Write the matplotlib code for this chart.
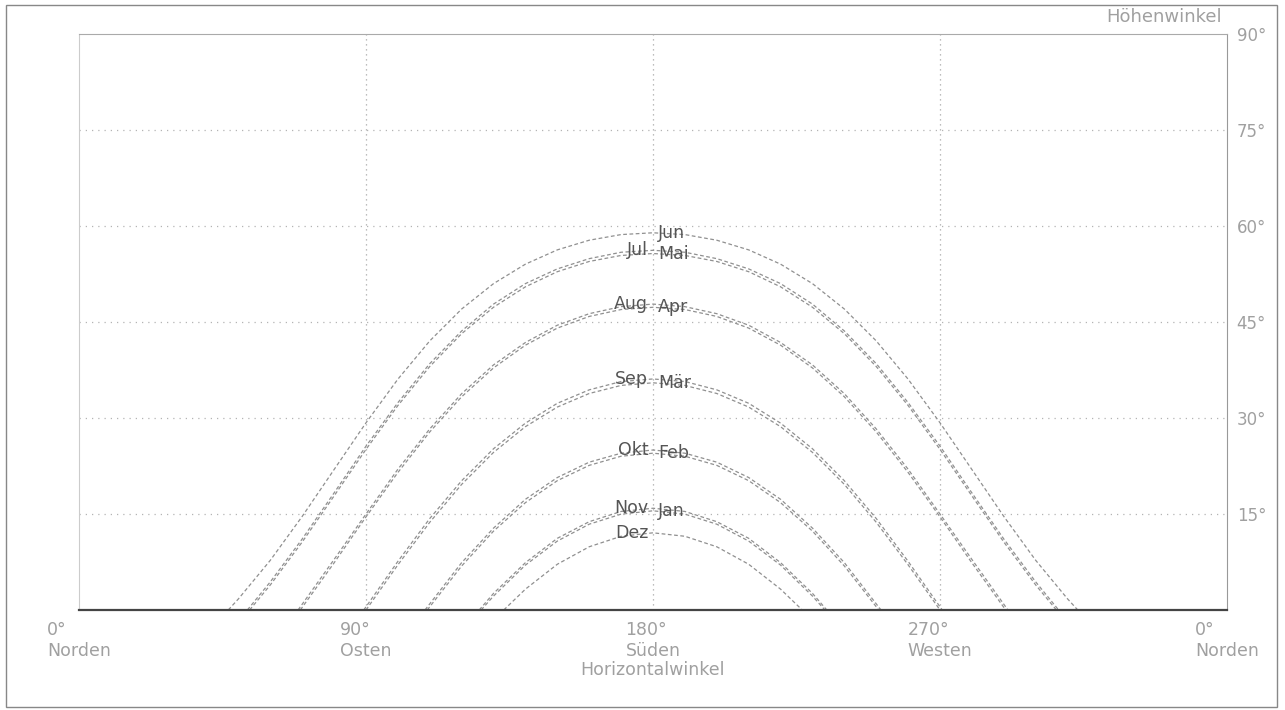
import matplotlib
matplotlib.use("Agg")
import matplotlib.pyplot as plt
from matplotlib.patches import Rectangle

plt.rcParams['font.family'] = ['DejaVu Sans']

# Sun path per month: azimuth from north (deg) and altitude (deg)
jun_az = [46.8, 50, 60, 70, 80, 90, 100, 110, 120, 130, 140, 150, 160, 170, 180,
          190, 200, 210, 220, 230, 240, 250, 260, 270, 280, 290, 300, 310, 313.2]
jun_alt = [0, 1.74, 7.77, 14.63, 21.95, 29.25, 36.07, 42.05, 47.03, 51.00, 54.04, 56.27, 57.78, 58.66, 58.94,
           58.66, 57.78, 56.27, 54.04, 51.00, 47.03, 42.05, 36.07, 29.25, 21.95, 14.63, 7.77, 1.74, 0]

mai_az = [53.5, 60, 70, 80, 90, 100, 110, 120, 130, 140, 150, 160, 170, 180,
          190, 200, 210, 220, 230, 240, 250, 260, 270, 280, 290, 300, 306.5]
mai_alt = [0, 3.92, 10.63, 17.83, 25.10, 31.95, 38.05, 43.18, 47.31, 50.50, 52.86, 54.46, 55.40, 55.70,
           55.40, 54.46, 52.86, 50.50, 47.31, 43.18, 38.05, 31.95, 25.10, 17.83, 10.63, 3.92, 0]

jul_az = [52.8, 60, 70, 80, 90, 100, 110, 120, 130, 140, 150, 160, 170, 180,
          190, 200, 210, 220, 230, 240, 250, 260, 270, 280, 290, 300, 307.2]
jul_alt = [0, 4.4, 11.1, 18.3, 25.6, 32.4, 38.5, 43.6, 47.8, 51.0, 53.3, 54.9, 55.9, 56.2,
           55.9, 54.9, 53.3, 51.0, 47.8, 43.6, 38.5, 32.4, 25.6, 18.3, 11.1, 4.4, 0]

apr_az = [69.4, 80, 90, 100, 110, 120, 130, 140, 150, 160, 170, 180,
          190, 200, 210, 220, 230, 240, 250, 260, 270, 280, 290.6]
apr_alt = [0, 7.37, 14.55, 21.49, 27.83, 33.32, 37.83, 41.38, 44.05, 45.87, 46.95, 47.30,
           46.95, 45.87, 44.05, 41.38, 37.83, 33.32, 27.83, 21.49, 14.55, 7.37, 0]

aug_az = [68.7, 80, 90, 100, 110, 120, 130, 140, 150, 160, 170, 180,
          190, 200, 210, 220, 230, 240, 250, 260, 270, 280, 291.3]
aug_alt = [0, 7.9, 15.0, 22.0, 28.3, 33.8, 38.3, 41.8, 44.5, 46.3, 47.4, 47.8,
           47.4, 46.3, 44.5, 41.8, 38.3, 33.8, 28.3, 22.0, 15.0, 7.9, 0]

maer_az = [90, 100, 110, 120, 130, 140, 150, 160, 170, 180,
           190, 200, 210, 220, 230, 240, 250, 260, 270]
maer_alt = [0, 7.06, 13.71, 19.63, 24.63, 28.65, 31.71, 33.83, 35.09, 35.50,
            35.09, 33.83, 31.71, 28.65, 24.63, 19.63, 13.71, 7.06, 0]

sep_az = [89.3, 100, 110, 120, 130, 140, 150, 160, 170, 180,
          190, 200, 210, 220, 230, 240, 250, 260, 270.7]
sep_alt = [0, 7.6, 14.3, 20.2, 25.2, 29.2, 32.3, 34.4, 35.7, 36.1,
           35.7, 34.4, 32.3, 29.2, 25.2, 20.2, 14.3, 7.6, 0]

feb_az = [109.2, 120, 130, 140, 150, 160, 170, 180, 190, 200, 210, 220, 230, 240, 250.8]
feb_alt = [0, 6.88, 12.33, 16.78, 20.21, 22.60, 24.03, 24.50, 24.03, 22.60, 20.21, 16.78, 12.33, 6.88, 0]

okt_az = [108.5, 120, 130, 140, 150, 160, 170, 180, 190, 200, 210, 220, 230, 240, 251.5]
okt_alt = [0, 7.4, 12.8, 17.3, 20.7, 23.1, 24.5, 25.0, 24.5, 23.1, 20.7, 17.3, 12.8, 7.4, 0]

jan_az = [126.1, 130, 140, 150, 160, 170, 180, 190, 200, 210, 220, 230, 233.9]
jan_alt = [0, 2.18, 7.02, 10.77, 13.41, 14.98, 15.50, 14.98, 13.41, 10.77, 7.02, 2.18, 0]

nov_az = [125.5, 130, 140, 150, 160, 170, 180, 190, 200, 210, 220, 230, 234.5]
nov_alt = [0, 2.6, 7.4, 11.2, 13.8, 15.4, 15.9, 15.4, 13.8, 11.2, 7.4, 2.6, 0]

dez_az = [133.2, 140, 150, 160, 170, 180, 190, 200, 210, 220, 226.8]
dez_alt = [0, 3.26, 7.15, 9.88, 11.52, 12.06, 11.52, 9.88, 7.15, 3.26, 0]

# month name, azimuths, altitudes, label side
months = [
    ("Jun", jun_az, jun_alt, "right"),
    ("Mai", mai_az, mai_alt, "right"),
    ("Jul", jul_az, jul_alt, "left"),
    ("Apr", apr_az, apr_alt, "right"),
    ("Aug", aug_az, aug_alt, "left"),
    ("Mär", maer_az, maer_alt, "right"),
    ("Sep", sep_az, sep_alt, "left"),
    ("Feb", feb_az, feb_alt, "right"),
    ("Okt", okt_az, okt_alt, "left"),
    ("Jan", jan_az, jan_alt, "right"),
    ("Nov", nov_az, nov_alt, "left"),
    ("Dez", dez_az, dez_alt, "left"),
]

x_ticks = [0, 90, 180, 270, 360]
x_labels = ["0°\nNorden", "90°\nOsten", "180°\nSüden", "270°\nWesten", "0°\nNorden"]
y_ticks = [15, 30, 45, 60, 75, 90]
y_labels = ["15°", "30°", "45°", "60°", "75°", "90°"]

W, H = 1285, 710
fig = plt.figure(figsize=(W / 100, H / 100), dpi=100)
ax = fig.add_axes([79 / W, 1 - 610 / H, (1227 - 79) / W, (610 - 34) / H])

axis_text = "#a0a0a0"
curve_col = "#909090"

for name, az, alt, side in months:
    ax.plot(az, alt, color=curve_col, lw=0.9, ls=(0, (3, 2)), zorder=2)
    peak = max(alt)
    if side == "right":
        ax.text(181.5, peak, name, ha="left", va="center", fontsize=12.5,
                color="#555555", zorder=3)
    else:
        ax.text(178.5, peak, name, ha="right", va="center", fontsize=12.5,
                color="#555555", zorder=3)

ax.set_xlim(0, 360)
ax.set_ylim(0, 90)

for y in [15, 30, 45, 60, 75]:
    ax.axhline(y, color="#b4b4b4", lw=0.9, ls=(0, (1, 4)), zorder=1)
for x in [90, 180, 270]:
    ax.axvline(x, color="#a8a8a8", lw=0.9, ls=(0, (1, 3)), zorder=1)

ax.set_xticks(x_ticks)
ax.set_xticklabels(x_labels, color=axis_text, fontsize=12.5, multialignment="left")
ax.yaxis.tick_right()
ax.set_yticks(y_ticks)
ax.set_yticklabels(y_labels, color=axis_text, fontsize=12)
ax.tick_params(axis="x", length=0, pad=8)
ax.tick_params(axis="y", length=0, pad=7)
ax.set_xlabel("Horizontalwinkel", color=axis_text, fontsize=12.5, labelpad=1)

ax.spines["left"].set_color("#cccccc")
ax.spines["top"].set_color("#aaaaaa")
ax.spines["right"].set_color("#999999")
ax.spines["bottom"].set_color("#444444")
ax.spines["bottom"].set_linewidth(1.6)

fig.text(1222 / W, 1 - 17 / H, "Höhenwinkel", ha="right", va="center",
         fontsize=13, color=axis_text)

fig.patches.append(Rectangle((6 / W, 3 / H), (1277 - 6) / W, (705 - 3) / H,
                             transform=fig.transFigure, fill=False,
                             edgecolor="#888888", lw=1.0))

fig.savefig("out.png", dpi=100)
